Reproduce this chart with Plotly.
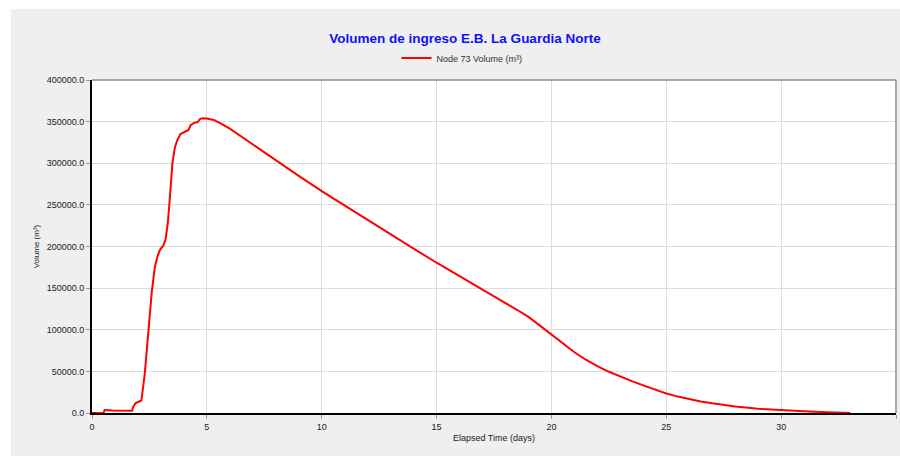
import plotly.graph_objects as go

# Data
time_days = [0, 0.5, 0.55, 0.9, 1.75, 1.8, 1.9, 2.15, 2.3, 2.45, 2.6, 2.74, 2.85, 2.96,
             3.1, 3.2, 3.3, 3.4, 3.5, 3.6, 3.7, 3.85, 4.05, 4.2, 4.3, 4.45, 4.6, 4.7,
             4.8, 5.0, 5.3, 5.6, 6.0, 6.5, 7.0, 8.0, 9.0, 10.0, 11.0, 12.0, 13.0, 14.0,
             15.0, 16.0, 17.0, 18.0, 18.5, 19.0, 19.5, 20.0, 20.5, 21.0, 21.5, 22.0,
             22.5, 23.0, 23.5, 24.0, 24.5, 25.0, 25.5, 26.0, 26.5, 27.0, 28.0, 29.0,
             30.0, 31.0, 32.0, 33.0]
volume_m3 = [0, 0, 3500, 3000, 2800, 8000, 12000, 15000, 48000, 100000, 145000, 176000,
             188000, 196000, 201000, 208000, 228000, 262000, 300000, 318000, 327000,
             335000, 338000, 340000, 346000, 348500, 349500, 353000, 354000, 353800,
             352000, 348000, 341500, 332000, 321800, 303300, 284800, 266500, 249000,
             231700, 214500, 197500, 180500, 164000, 147800, 132000, 124000, 115500,
             105000, 94000, 83200, 73000, 64000, 56200, 49500, 43700, 38300, 33200,
             27900, 23500, 19700, 16600, 13900, 11600, 7800, 5200, 3400, 2000, 900, 100]

x_ticks = [0, 5, 10, 15, 20, 25, 30, 35]
y_ticks = [0, 50000, 100000, 150000, 200000, 250000, 300000, 350000, 400000]

W, H = 900, 456
L, R, T, B = 92, 4, 80, 43
pw, ph = W - L - R, H - T - B

def px_to_paper_x(px):
    return (px - L) / pw

def px_to_paper_y(py):
    return (H - B - py) / ph

FONT = "Liberation Sans, Arial, sans-serif"

fig = go.Figure()
fig.add_trace(go.Scatter(
    x=time_days, y=volume_m3, mode="lines",
    name="Node 73 Volume (m³)",
    line=dict(color="#ff0000", width=2),
))

shapes = [
    # grey panel
    dict(type="rect", xref="paper", yref="paper", layer="below",
         x0=px_to_paper_x(11), x1=px_to_paper_x(902),
         y0=px_to_paper_y(458), y1=px_to_paper_y(9),
         fillcolor="#efefef", line=dict(width=0)),
    # white plot area
    dict(type="rect", xref="paper", yref="paper", layer="below",
         x0=0, x1=1, y0=0, y1=1, fillcolor="#ffffff", line=dict(width=0)),
    # top & right borders (gray)
    dict(type="line", xref="paper", yref="paper", x0=0, x1=1, y0=1, y1=1,
         line=dict(color="#8c8c8c", width=1.5)),
    dict(type="line", xref="paper", yref="paper", x0=1, x1=1, y0=0, y1=1,
         line=dict(color="#8c8c8c", width=1.5)),
]

fig.update_layout(
    width=W, height=H,
    margin=dict(l=L, r=R, t=T, b=B, pad=0, autoexpand=False),
    paper_bgcolor="#ffffff",
    plot_bgcolor="rgba(0,0,0,0)",
    font=dict(family=FONT, size=9, color="#222222"),
    title=dict(text="<b>Volumen de ingreso E.B. La Guardia Norte</b>",
               x=465 / W, xanchor="center", y=1 - 38 / H, yanchor="middle",
               font=dict(family=FONT, size=13.5, color="#1010ff")),
    showlegend=True,
    legend=dict(orientation="h", x=px_to_paper_x(462), xanchor="center",
                y=px_to_paper_y(58), yanchor="middle",
                bgcolor="rgba(0,0,0,0)", font=dict(family=FONT, size=9, color="#333333"),
                itemwidth=30),
    shapes=shapes,
    xaxis=dict(range=[0, 35], tickvals=x_ticks, ticktext=[str(v) for v in x_ticks],
               showgrid=True, gridcolor="#dcdcdc", gridwidth=1, automargin=False,
               showline=True, linecolor="#000000", linewidth=2,
               ticks="outside", ticklen=4, tickcolor="#999999",
               zeroline=False, tickfont=dict(size=9, color="#222222"),
               title=dict(text="Elapsed Time (days)", standoff=4,
                          font=dict(size=9, color="#222222"))),
    yaxis=dict(range=[0, 400000], tickvals=y_ticks, tickformat=".1f",
               showgrid=True, gridcolor="#dcdcdc", gridwidth=1, automargin=False,
               showline=True, linecolor="#000000", linewidth=2,
               ticks="outside", ticklen=4, tickcolor="#999999",
               zeroline=False, tickfont=dict(size=9, color="#222222"),
               title=dict(text="Volume (m³)", standoff=6,
                          font=dict(size=8, color="#222222"))),
)

fig.write_html(
    "out.html",
    config={"responsive": False, "displayModeBar": False},
    post_script=(
        "document.documentElement.style.margin='0';"
        "document.body.style.margin='0';"
        "document.body.style.overflow='hidden';"
        "Plotly.relayout('{plot_id}', {width: 900, height: 456});"
    ),
)
